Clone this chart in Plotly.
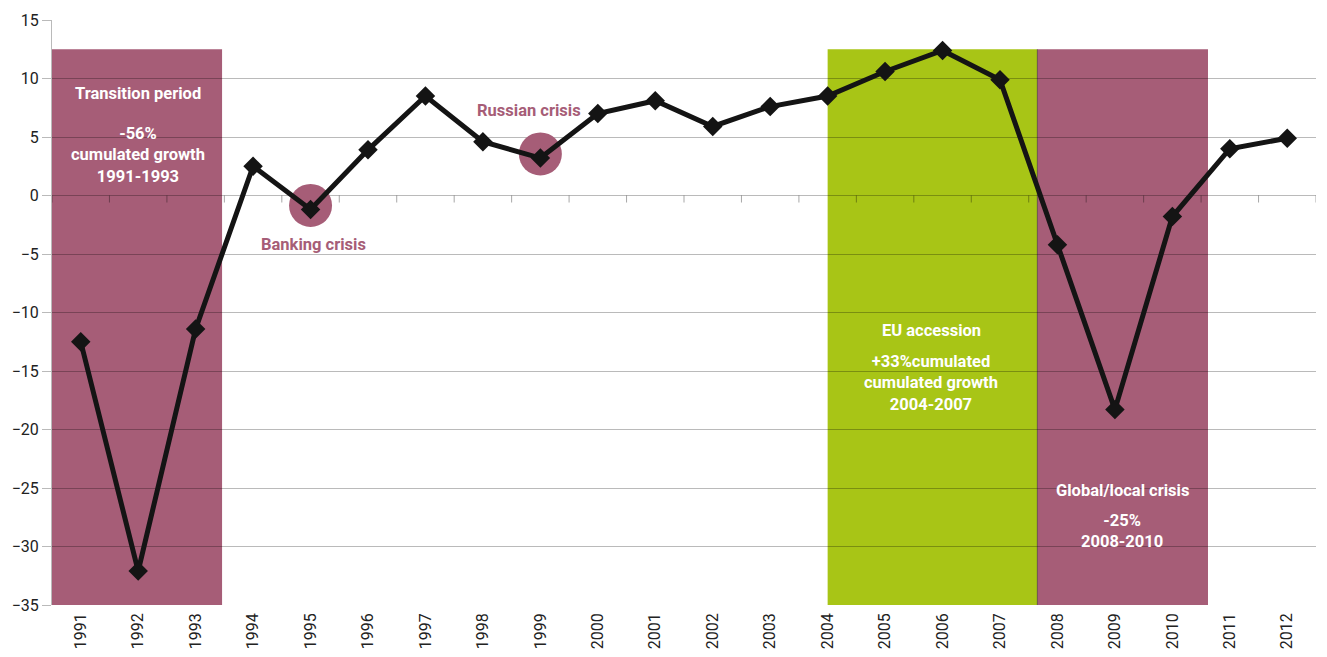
import plotly.graph_objects as go

# Annual GDP growth, %
years = [str(y) for y in range(1991, 2013)]
growth = [-12.5, -32.1, -11.4, 2.5, -1.2, 3.9, 8.5, 4.6, 3.2, 7.0, 8.1,
          5.9, 7.6, 8.5, 10.6, 12.4, 9.9, -4.2, -18.3, -1.8, 4.0, 4.9]

# Shaded periods: (start, end) in category units, top of band, colour
periods_x = [(-0.5, 2.46), (13.0, 16.65), (16.65, 19.62)]
periods_top = 12.5
periods_color = ["#a65d77", "#a8c516", "#a65d77"]

# Crisis markers
crisis_years = ["1995", "1999"]
crisis_labels = ["Banking crisis", "Russian crisis"]

PURPLE = "#a65d77"
FONT = "Liberation Sans Narrow, Arial Narrow, Roboto, sans-serif"

fig = go.Figure()

shapes = []
for (x0, x1), c in zip(periods_x, periods_color):
    shapes.append(dict(type="rect", xref="x", yref="y", x0=x0, x1=x1,
                       y0=-35, y1=periods_top, fillcolor=c,
                       line=dict(width=0), layer="below"))
# divider between the accession and crisis bands
shapes.append(dict(type="line", xref="x", yref="y", x0=periods_x[2][0],
                   x1=periods_x[2][0], y0=-35, y1=periods_top,
                   line=dict(color="rgba(0,0,0,0.45)", width=1), layer="between"))
# category tick marks on the zero line
for i in range(len(years) + 1):
    shapes.append(dict(type="line", xref="x", yref="y", x0=i - 0.5, x1=i - 0.5,
                       y0=0, y1=-0.6,
                       line=dict(color="rgba(0,0,0,0.35)", width=1), layer="between"))

# crisis circles
crisis_vals = [growth[years.index(y)] for y in crisis_years]
fig.add_trace(go.Scatter(
    x=crisis_years, y=[v + 0.35 for v in crisis_vals], mode="markers",
    marker=dict(size=43, color=PURPLE, line=dict(width=0)),
    hoverinfo="skip", showlegend=False))

fig.add_trace(go.Scatter(
    x=years, y=growth, mode="lines+markers",
    line=dict(color="#141414", width=5),
    marker=dict(symbol="diamond", size=15, color="#141414"),
    showlegend=False))

white = dict(family=FONT, size=16.5, color="white")
ann = [
    dict(x=1, y=8.7, text="<b>Transition period</b>"),
    dict(x=1, y=3.5, text="<b>-56%<br>cumulated growth<br>1991-1993</b>"),
    dict(x=14.8, y=-11.5, text="<b>EU accession</b>"),
    dict(x=14.8, y=-16.0, text="<b>+33%cumulated<br>cumulated growth<br>2004-2007</b>"),
    dict(x=18.13, y=-25.2, text="<b>Global/local crisis</b>"),
    dict(x=18.13, y=-28.7, text="<b>-25%<br>2008-2010</b>"),
]
annotations = [dict(a, xref="x", yref="y", showarrow=False, font=white,
                    align="center") for a in ann]
annotations.append(dict(x=4.05, y=-4.2, text="<b>" + crisis_labels[0] + "</b>",
                        xref="x", yref="y", showarrow=False,
                        font=dict(family=FONT, size=16.5, color=PURPLE)))
annotations.append(dict(x=7.8, y=7.3, text="<b>" + crisis_labels[1] + "</b>",
                        xref="x", yref="y", showarrow=False,
                        font=dict(family=FONT, size=16.5, color=PURPLE)))

fig.update_layout(
    width=1327, height=657,
    margin=dict(l=52, r=11, t=20, b=52, autoexpand=False),
    paper_bgcolor="white", plot_bgcolor="white",
    shapes=shapes, annotations=annotations,
    font=dict(family=FONT, size=16, color="#222"),
    xaxis=dict(type="category", categoryorder="array", categoryarray=years,
               range=[-0.5, len(years) - 0.5], tickangle=-90, automargin=False,
               showgrid=False, zeroline=False, showline=False,
               ticks="", ticklabelstandoff=4,
               tickfont=dict(family=FONT, size=16, color="#222")),
    yaxis=dict(range=[-35, 15], dtick=5, tick0=0, automargin=False,
               showgrid=True, gridcolor="rgba(0,0,0,0.27)", gridwidth=1,
               zeroline=False, showline=True, linecolor="rgba(0,0,0,0.27)",
               ticks="outside", ticklen=9, tickcolor="rgba(0,0,0,0.27)",
               tickfont=dict(family=FONT, size=16, color="#222")),
)

fig.write_html("out.html")
